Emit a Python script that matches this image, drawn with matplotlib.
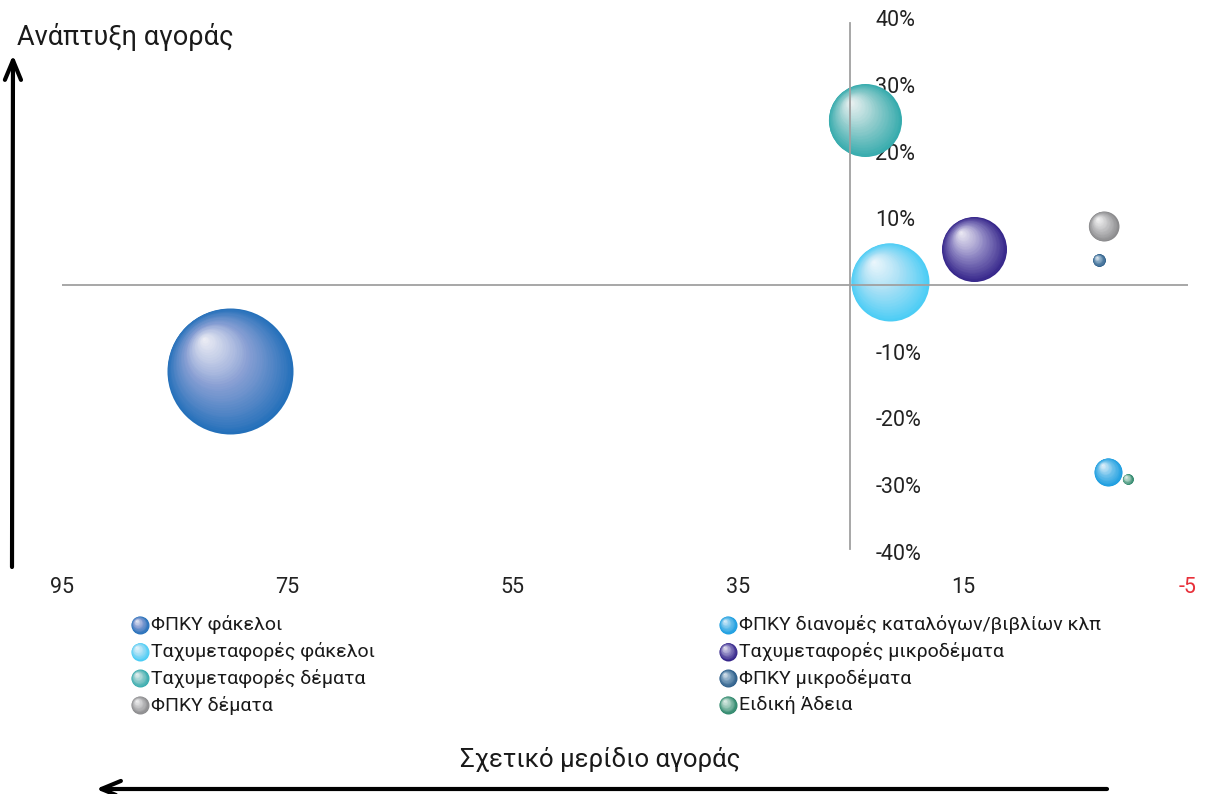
import matplotlib
matplotlib.use("Agg")
import matplotlib.pyplot as plt
import matplotlib.transforms as mtransforms
import numpy as np
from matplotlib.colors import to_rgb

plt.rcParams['font.family'] = ['Roboto', 'DejaVu Sans']
plt.rcParams['font.weight'] = 'normal'

DPI = 100

# series (relative market share, market growth %, bubble size)
names = ["ΦΠΚΥ φάκελοι", "Ταχυμεταφορές φάκελοι", "Ταχυμεταφορές δέματα", "ΦΠΚΥ δέματα",
         "ΦΠΚΥ διανομές καταλόγων/βιβλίων κλπ", "Ταχυμεταφορές μικροδέματα",
         "ΦΠΚΥ μικροδέματα", "Ειδική Άδεια"]
share = [80.1, 21.5, 23.7, 2.5, 2.1, 14.0, 2.9, 0.35]
growth = [-12.9, 0.5, 24.7, 8.8, -28.0, 5.4, 3.7, -29.1]
size = [3969, 1521, 1332, 225, 196, 1056, 40, 28]  # bubble area (px^2)

dark = ['#2470ba', '#4ccdf5', '#35abad', '#8a8a8c', '#1a9de0', '#35258a', '#2a5c88', '#2b8569']
mid = ['#8aa0d4', '#a8e0f5', '#95cece', '#c2c2c4', '#72c3ec', '#9088c4', '#7a9fbd', '#96c6b5']
light = ['#f0f0f6', '#eef7fc', '#f0f4f4', '#f6f6f6', '#e6f3fb', '#efedf5', '#e4ecf3', '#e6f2ed']

xticks = [95, 75, 55, 35, 15, -5]
yticks = [-40, -30, -20, -10, 0, 10, 20, 30, 40]

fig = plt.figure(figsize=(12.07, 7.94), dpi=DPI)


def lerp(c1, c2, t):
    a, b = np.array(to_rgb(c1)), np.array(to_rgb(c2))
    return tuple(a + (b - a) * t)


def sphere(ax, x, y, area, cd, cm, cl, z=2, n=40):
    # shaded ball: stacked discs shrinking toward an upper-left highlight
    r_pt = np.sqrt(area) * 72 / DPI
    hx, hy = -0.42 * r_pt, 0.52 * r_pt
    for k in range(n):
        t = k / n
        rad = r_pt * (1 - t)
        if t < 0.5:
            c = lerp(cd, cm, (t / 0.5) ** 0.95)
        else:
            c = lerp(cm, cl, ((t - 0.5) / 0.5) ** 0.9)
        off = mtransforms.ScaledTranslation(hx * t / 72, hy * t / 72, fig.dpi_scale_trans)
        ax.scatter([x], [y], s=(2 * rad) ** 2, color=c, lw=0,
                   transform=ax.transData + off, zorder=z)


ax = fig.add_axes([62 / 1207, 1 - 552 / 794, 1126 / 1207, 534 / 794])
ax.set_xlim(95, -5)
ax.set_ylim(-40, 40)

for i in range(len(names)):
    sphere(ax, share[i], growth[i], size[i], dark[i], mid[i], light[i])

ax.axhline(0, color='#a0a0a0', lw=1.3, zorder=2.6)

for s in ['left', 'top', 'bottom']:
    ax.spines[s].set_visible(False)
ax.spines['right'].set_position(('data', 25))
ax.spines['right'].set_color('#a0a0a0')
ax.spines['right'].set_linewidth(1.3)
ax.spines['right'].set_bounds(-39.6, 39.3)
ax.yaxis.tick_right()
ax.set_yticks(yticks)
ax.set_yticklabels([f"{v}%" for v in yticks])
ax.tick_params(axis='y', length=0, pad=18, labelsize=15.5, labelcolor='#222222')
ax.set_xticks(xticks)
ax.set_xticklabels([str(v) for v in xticks])
ax.tick_params(axis='x', length=0, pad=18, labelsize=15.5, labelcolor='#222222')
ax.get_xticklabels()[-1].set_color('#e8303a')
ax.patch.set_visible(False)

# overlay in pixel coordinates for titles, arrows, legend
ov = fig.add_axes([0, 0, 1, 1])
ov.set_xlim(0, 1207)
ov.set_ylim(794, 0)
ov.axis('off')
ov.patch.set_visible(False)

ov.text(17, 37, "Ανάπτυξη αγοράς", fontsize=19.5, va='center', ha='left', color='#1a1a1a')
ov.text(600, 759, "Σχετικό μερίδιο αγοράς", fontsize=18.5, va='center', ha='center', color='#1a1a1a')

ov.annotate('', xy=(13, 55), xytext=(12, 567),
            arrowprops=dict(arrowstyle='->,head_length=1.4,head_width=0.58', lw=3, color='k',
                            shrinkA=0, shrinkB=0))
ov.annotate('', xy=(96, 789), xytext=(1107, 789),
            arrowprops=dict(arrowstyle='->,head_length=1.4,head_width=0.58', lw=3, color='k',
                            shrinkA=0, shrinkB=0))

for i, nm in enumerate(names):
    col, row = divmod(i, 4)
    mx = [140, 728][col]
    my = 625 + row * 26.7
    sphere(ov, mx, my, 81, dark[i], mid[i], light[i], n=15)
    ov.text(mx + 11, my, nm, fontsize=14, va='center', ha='left', color='#1a1a1a')

fig.savefig("out.png", dpi=DPI)
